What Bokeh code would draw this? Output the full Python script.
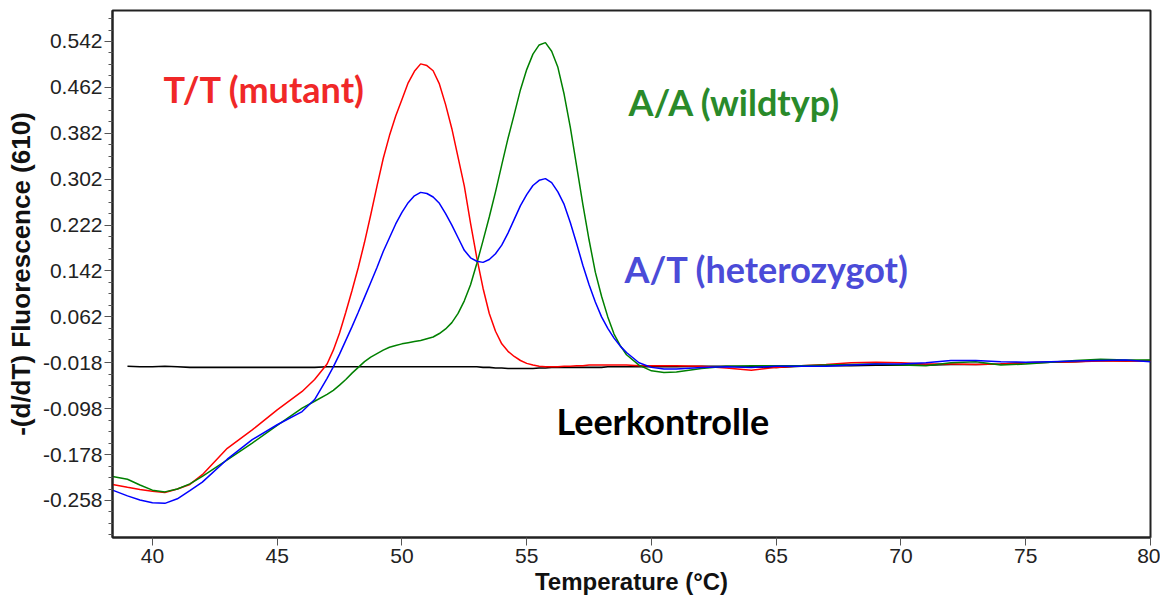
from bokeh.plotting import figure
from bokeh.models import Range1d, FixedTicker, Label
from bokeh.embed import file_html
from bokeh.resources import INLINE

nan = float("nan")

temp = [38.4, 39, 39.5, 40, 40.5, 41, 41.5, 42, 43, 44, 45, 46, 46.5,
        47, 47.25, 47.5, 47.75, 48, 48.25, 48.5, 48.75, 49, 49.25, 49.5, 49.75,
        50, 50.25, 50.5, 50.75, 51, 51.25, 51.5, 51.75, 52, 52.25, 52.5, 52.75,
        53, 53.25, 53.5, 53.75, 54, 54.25, 54.5, 54.75, 55, 55.25, 55.5, 55.75,
        56, 56.25, 56.5, 56.75, 57, 57.25, 57.5, 57.75, 58, 58.25, 58.5, 58.75, 59,
        59.5, 60, 60.5, 61, 62, 63, 64, 65, 66, 67, 68, 69, 70, 71, 72, 73, 74, 75,
        76, 77, 78, 79, 80]

tt_mutant = [-0.230, -0.235, -0.239, -0.242, -0.244, -0.238, -0.230, -0.213, -0.167, -0.135,
             -0.100, -0.068, -0.047,
             -0.020, 0.004, 0.034, 0.070, 0.108, 0.148, 0.192, 0.240, 0.290, 0.338, 0.378, 0.412,
             0.441, 0.470, 0.490, 0.503, 0.500, 0.491, 0.468, 0.432, 0.390, 0.340, 0.290, 0.225,
             0.165, 0.112, 0.068, 0.037, 0.015, 0.002, -0.007, -0.014, -0.019, -0.022, -0.024, -0.025,
             -0.025, -0.025, -0.024, -0.024, -0.023, -0.023, -0.022, -0.022, -0.022, -0.022, -0.022,
             -0.022, -0.022,
             -0.023, -0.023, -0.023, -0.023, -0.024, -0.027, -0.031, -0.026, -0.023, -0.021, -0.018,
             -0.017, -0.018, -0.020, -0.020, -0.021, -0.020, -0.018, -0.017, -0.016, -0.015, -0.015,
             -0.015]

at_hetero = [-0.240, -0.250, -0.257, -0.262, -0.263, -0.255, -0.241, -0.226, -0.186, -0.152,
             -0.126, -0.103, -0.082,
             -0.045, -0.025, -0.003, 0.021, 0.045, 0.070, 0.096, 0.122, 0.148, 0.176, 0.200, 0.224,
             0.244, 0.261, 0.273, 0.279, 0.277, 0.271, 0.260, 0.242, 0.222, 0.200, 0.178, 0.165,
             0.159, 0.157, 0.162, 0.172, 0.187, 0.208, 0.232, 0.256, 0.275, 0.291, 0.300, 0.303,
             0.296, 0.280, 0.258, 0.226, 0.190, 0.152, 0.118, 0.088, 0.062, 0.042, 0.025, 0.011,
             0.000,
             -0.018, -0.026, -0.029, -0.029, -0.026, -0.025, -0.026, -0.024, -0.024, -0.024, -0.022,
             -0.020, -0.020, -0.018, -0.014, -0.014, -0.016, -0.017, -0.016, -0.015, -0.014, -0.013,
             -0.016]

aa_wild = [-0.216, -0.221, -0.231, -0.240, -0.243, -0.238, -0.229, -0.216, -0.187, -0.158,
           -0.127, -0.097, -0.085,
           -0.073, -0.066, -0.057, -0.047, -0.036, -0.026, -0.016, -0.008, -0.002, 0.004, 0.009, 0.012,
           0.015, 0.017, 0.019, 0.021, 0.024, 0.027, 0.033, 0.041, 0.052, 0.068, 0.090, 0.118,
           0.155, 0.195, 0.236, 0.280, 0.327, 0.373, 0.415, 0.458, 0.493, 0.520, 0.536, 0.540,
           0.525, 0.497, 0.450, 0.392, 0.325, 0.258, 0.196, 0.140, 0.098, 0.062, 0.032, 0.012,
           -0.004,
           -0.022, -0.032, -0.035, -0.034, -0.028, -0.024, -0.023, -0.023, -0.023, -0.022, -0.021,
           -0.020, -0.022, -0.023, -0.018, -0.016, -0.022, -0.020, -0.017, -0.014, -0.012, -0.013,
           -0.013]

leer = [nan, -0.024, -0.025, -0.025, -0.024, -0.025, -0.026, -0.026, -0.026, -0.026,
        -0.026, -0.026, -0.026,
        -0.025, -0.025, -0.025, -0.025, -0.025, -0.025, -0.025, -0.025, -0.025, -0.025, -0.025, -0.025,
        -0.025, -0.025, -0.025, -0.025, -0.025, -0.025, -0.025, -0.025, -0.025, -0.025, -0.025, -0.025,
        -0.025, -0.026, -0.026, -0.027, -0.027, -0.028, -0.028, -0.028, -0.028, -0.028, -0.027, -0.027,
        -0.026, -0.026, -0.026, -0.026, -0.026, -0.026, -0.026, -0.026, -0.026, -0.025, -0.025, -0.025,
        -0.025,
        -0.025, -0.025, -0.025, -0.025, -0.024, -0.024, -0.025, -0.026, -0.024, -0.023, -0.023,
        -0.022, -0.022, -0.022, -0.021, -0.021, -0.020, -0.018, -0.017, -0.016, -0.014, -0.015,
        -0.014]

y_ticks = [0.542, 0.462, 0.382, 0.302, 0.222, 0.142, 0.062, -0.018, -0.098, -0.178, -0.258]
x_ticks = [40, 45, 50, 55, 60, 65, 70, 75, 80]

labels = ["T/T (mutant)", "A/A (wildtyp)", "A/T (heterozygot)", "Leerkontrolle"]

p = figure(width=1160, height=598, output_backend="svg", toolbar_location=None,
           x_range=Range1d(38.4, 80), y_range=Range1d(-0.3225, 0.596),
           min_border_left=112, min_border_right=10, min_border_top=10, min_border_bottom=61)
p.background_fill_color = "white"
p.border_fill_color = "white"
p.outline_line_color = "#222222"
p.outline_line_width = 2
p.xgrid.visible = False
p.ygrid.visible = False

p.line(temp, leer, line_color="black", line_width=1.6)
p.line(temp, tt_mutant, line_color="#ff0000", line_width=1.5)
p.line(temp, aa_wild, line_color="#008000", line_width=1.5)
p.line(temp, at_hetero, line_color="#0000ff", line_width=1.5)

minor = []
for t in y_ticks:
    for k in (1, 2, 3):
        minor.append(round(t - 0.02 * k, 3))
minor += [0.562, 0.582]

p.yaxis.ticker = FixedTicker(ticks=y_ticks, minor_ticks=minor)
p.yaxis.major_label_overrides = {t: f"{t:.3f}" for t in y_ticks}
p.xaxis.ticker = FixedTicker(ticks=x_ticks, minor_ticks=[])

for ax in (p.xaxis[0], p.yaxis[0]):
    ax.axis_line_color = "#222222"
    ax.axis_line_width = 2
    ax.major_tick_line_color = "#555555"
    ax.minor_tick_line_color = "#555555"
    ax.major_tick_in = 0
    ax.minor_tick_in = 0
    ax.major_label_text_font = "Liberation Sans"
    ax.major_label_text_font_size = "21px"
    ax.major_label_text_color = "#222222"
    ax.axis_label_text_font = "Liberation Sans"
    ax.axis_label_text_font_style = "bold"
    ax.axis_label_text_color = "#111111"

p.yaxis.major_tick_out = 8
p.yaxis.minor_tick_out = 4
p.yaxis.major_label_standoff = 2
p.xaxis.major_tick_out = 8
p.xaxis.major_label_standoff = 3

p.xaxis.axis_label = "Temperature (°C)"
p.xaxis.axis_label_text_font_size = "24px"
p.xaxis.axis_label_standoff = 2
p.yaxis.axis_label = "-(d/dT) Fluorescence (610)"
p.yaxis.axis_label_text_font_size = "26px"
p.yaxis.axis_label_standoff = 4

label_pos = [(40.44, 0.460), (59.08, 0.436), (58.92, 0.146), (56.19, -0.119)]
label_col = ["#f02828", "#2a8a2a", "#4b4bd8", "#000000"]
for txt, (lx, ly), col in zip(labels, label_pos, label_col):
    p.add_layout(Label(x=lx, y=ly, text=txt, text_font="Lato", text_font_style="bold",
                       text_font_size="36px", text_color=col, text_baseline="middle"))

open("out.html", "w").write(file_html(p, INLINE))
